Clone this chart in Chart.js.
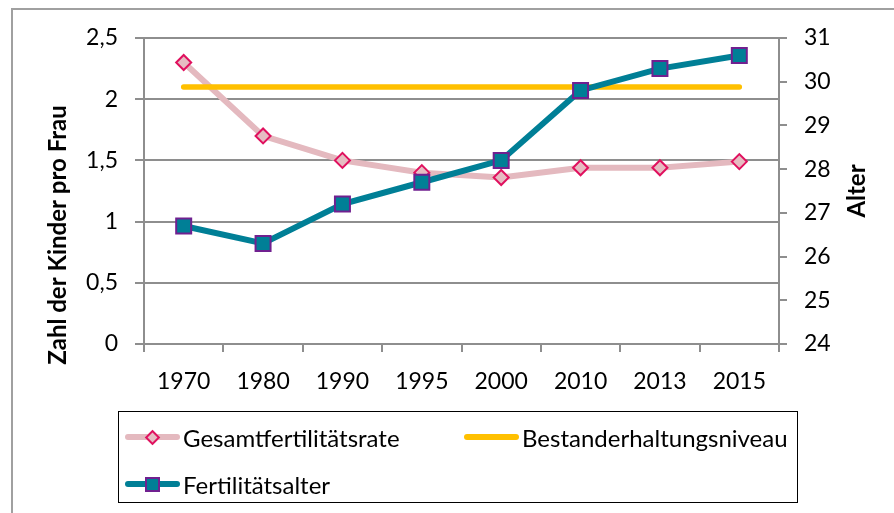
<!DOCTYPE html>
<html>
<head>
<meta charset="utf-8">
<script src="https://cdn.jsdelivr.net/npm/chart.js@4.4.0/dist/chart.umd.min.js"></script>
<style>
  html, body { margin: 0; padding: 0; background: #fff; }
  #wrap { position: relative; width: 894px; height: 513px; overflow: hidden; font-family: Lato, sans-serif; }
  #frame { position: absolute; left: 11px; top: 8px; width: 900px; height: 520px; border-left: 2px solid #a0a0a0; border-top: 2px solid #a0a0a0; }
  canvas { position: absolute; left: 0; top: 0; }
  #legend { position: absolute; left: 118px; top: 411px; width: 680px; height: 92px; border: 1.5px solid #000; box-sizing: border-box; }
  .item { position: absolute; height: 30px; display: flex; align-items: center; font-size: 24px; white-space: nowrap; color: #000; }
  .sym { position: relative; width: 55px; height: 30px; margin-right: 3px; flex: none; }
  .sym .ln { position: absolute; left: 0; right: 0; top: 12px; height: 6px; border-radius: 3px; }
  .sym .mk { position: absolute; box-sizing: border-box; }
</style>
</head>
<body>
<div id="wrap">
  <div id="frame"></div>
  <canvas id="chart" width="894" height="513"></canvas>
  <div id="legend"></div>
</div>
<script>
// Daten
const years = ['1970', '1980', '1990', '1995', '2000', '2010', '2013', '2015'];
const gesamtRate = [2.3, 1.7, 1.5, 1.4, 1.36, 1.44, 1.44, 1.49];
const bestandNiveau = [2.1, 2.1, 2.1, 2.1, 2.1, 2.1, 2.1, 2.1];
const fertAlter = [26.7, 26.3, 27.2, 27.7, 28.2, 29.8, 30.3, 30.6];
const leftTicks = ['0', '0,5', '1', '1,5', '2', '2,5'];

const gridColor = '#8e8e8e';
const tickFont = { family: 'Lato', size: 23 };

// Achsentitel, beide von unten nach oben gedreht (wie im Original)
const axisTitles = {
    id: 'axisTitles',
    afterDraw(chart) {
        const ctx = chart.ctx;
        const draw = (text, x, y) => {
            ctx.save();
            ctx.translate(x, y);
            ctx.rotate(-Math.PI / 2);
            ctx.font = 'bold 24px Lato';
            ctx.fillStyle = '#000';
            ctx.textAlign = 'center';
            ctx.textBaseline = 'middle';
            ctx.fillText(text, 0, 0);
            ctx.restore();
        };
        draw('Zahl der Kinder pro Frau', 58, 235);
        draw('Alter', 857, 191);
    }
};

const chart = new Chart(document.getElementById('chart'), {
    type: 'line',
    data: {
        labels: years,
        datasets: [{
            label: 'Gesamtfertilitätsrate',
            data: gesamtRate,
            yAxisID: 'y',
            order: 2,
            borderColor: '#e4b9bf',
            borderWidth: 6,
            pointStyle: 'rectRot',
            pointRadius: 7.5,
            pointBackgroundColor: '#e6bcc2',
            pointBorderColor: '#e0115f',
            pointBorderWidth: 2
        }, {
            label: 'Bestanderhaltungsniveau',
            data: bestandNiveau,
            yAxisID: 'y',
            order: 1,
            borderColor: '#ffc000',
            borderWidth: 5.5,
            borderCapStyle: 'round',
            pointRadius: 0
        }, {
            label: 'Fertilitätsalter',
            data: fertAlter,
            yAxisID: 'y1',
            order: 0,
            borderColor: '#007f96',
            borderWidth: 6,
            pointStyle: 'rect',
            pointRadius: 10.6,
            pointBackgroundColor: '#007f96',
            pointBorderColor: '#702090',
            pointBorderWidth: 2
        }]
    },
    options: {
        responsive: false,
        animation: false,
        layout: { padding: { top: 38, left: 0, right: 0, bottom: 0 } },
        plugins: {
            legend: { display: false },
            tooltip: { enabled: false }
        },
        scales: {
            x: {
                offset: true,
                grid: { drawOnChartArea: false, tickLength: 8, color: gridColor, lineWidth: 2, offset: true },
                border: { color: gridColor, width: 2 },
                ticks: { color: '#000', font: tickFont, padding: 16, maxRotation: 0, autoSkip: false },
                afterFit: s => { s.height = 169; }
            },
            y: {
                position: 'left',
                min: 0,
                max: 2.5,
                grid: { color: gridColor, lineWidth: 2, tickLength: 9 },
                border: { color: gridColor, width: 2 },
                ticks: {
                    stepSize: 0.5,
                    padding: 17,
                    color: '#000',
                    font: tickFont,
                    callback: v => leftTicks[Math.round(v * 2)]
                },
                afterFit: s => { s.width = 144; }
            },
            y1: {
                position: 'right',
                min: 24,
                max: 31,
                grid: { drawOnChartArea: false, color: gridColor, lineWidth: 2, tickLength: 8 },
                border: { color: gridColor, width: 2 },
                ticks: { stepSize: 1, padding: 17, color: '#000', font: tickFont },
                afterFit: s => { s.width = 115; }
            }
        }
    },
    plugins: [axisTitles]
});

// Legende (HTML), aus den Datensätzen gebaut
const legendPos = [{ x: 6, y: 10 }, { x: 345, y: 10 }, { x: 6, y: 57 }];
const legend = document.getElementById('legend');
chart.data.datasets.forEach((ds, i) => {
    const item = document.createElement('div');
    item.className = 'item';
    item.style.left = legendPos[i].x + 'px';
    item.style.top = legendPos[i].y + 'px';
    const sym = document.createElement('div');
    sym.className = 'sym';
    const ln = document.createElement('div');
    ln.className = 'ln';
    ln.style.background = ds.borderColor;
    sym.appendChild(ln);
    if (ds.pointRadius > 0) {
        const mk = document.createElement('div');
        mk.className = 'mk';
        mk.style.background = ds.pointBackgroundColor;
        mk.style.border = ds.pointBorderWidth + 'px solid ' + ds.pointBorderColor;
        if (ds.pointStyle === 'rectRot') {
            mk.style.width = '11px'; mk.style.height = '11px';
            mk.style.left = '22px'; mk.style.top = '9.5px';
            mk.style.transform = 'rotate(45deg)';
        } else {
            mk.style.width = '15px'; mk.style.height = '15px';
            mk.style.left = '20px'; mk.style.top = '7.5px';
        }
        sym.appendChild(mk);
    }
    item.appendChild(sym);
    const txt = document.createElement('span');
    txt.textContent = ds.label;
    item.appendChild(txt);
    legend.appendChild(item);
});
</script>
</body>
</html>
